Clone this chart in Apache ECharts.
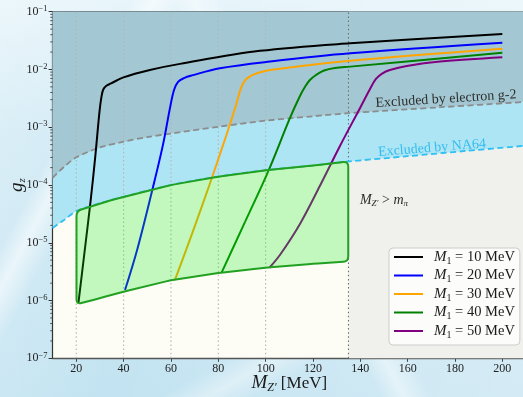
<!DOCTYPE html>
<html>
<head>
<meta charset="utf-8">
<script src="https://cdn.jsdelivr.net/npm/echarts@6/dist/echarts.min.js"></script>
<style>
  html, body { margin: 0; padding: 0; }
  body {
    width: 523px; height: 397px; overflow: hidden;
    background:
      linear-gradient(118deg, transparent 0 18%, rgba(255,255,255,0.55) 21%, transparent 25%),
      linear-gradient(62deg, transparent 0 52%, rgba(255,255,255,0.45) 55%, transparent 59%),
      linear-gradient(150deg, transparent 0 70%, rgba(255,255,255,0.4) 74%, transparent 78%),
      linear-gradient(100deg, rgba(255,255,255,0.25) 0%, transparent 30%, rgba(255,255,255,0.3) 100%),
      linear-gradient(180deg, #e6f4fa 0%, #cfe9f4 35%, #c2e3f1 100%);
  }
  #chart { width: 523px; height: 397px; }
</style>
</head>
<body>
<div id="chart"></div>
<script>
// ---- axis ranges and ticks ----
const xMin = 10, xMax = 210;
const yMin = 1e-7, yMax = 1e-1;
const xTickValues = [20, 40, 60, 80, 100, 120, 140, 160, 180, 200];

// ---- M1 benchmark masses (MeV) ----
const m1Masses = [10, 20, 30, 40, 50];

// ---- coupling curves g_z(M_Z') for each M1 ----
const curveM1_10 = [[20.9, 9.0e-7], [23.5, 6.97e-6], [26.1, 5.5e-5], [28.1, 3.32e-4], [29.8, 1.84e-3],
  [30.7, 3.48e-3], [31.4, 4.5e-3], [32.6, 5.19e-3], [34.7, 5.73e-3], [39.9, 7.3e-3],
  [51.1, 9.8e-3], [63.8, 1.25e-2], [97.6, 2.1e-2], [135.7, 2.84e-2], [200, 4.1e-2]];
const curveM1_20 = [[40.6, 1.52e-6], [45.7, 7.5e-6], [51.6, 6.7e-5], [56.6, 4.9e-4], [59.6, 2.16e-3],
  [61.3, 4.4e-3], [63.0, 6.1e-3], [65.5, 7.1e-3], [68.9, 7.9e-3], [80.7, 1.05e-2], [101.9, 1.37e-2],
  [135.7, 1.9e-2], [200, 2.9e-2]];
const curveM1_30 = [[61.7, 2.28e-6], [68.9, 1.43e-5], [76.1, 9.6e-5], [83.3, 7.06e-4], [87.5, 2.43e-3],
  [89.6, 4.79e-3], [91.3, 6.46e-3], [93.4, 7.57e-3], [96.4, 8.6e-3], [101.9, 9.8e-3],
  [135.7, 1.42e-2], [200, 2.29e-2]];
const curveM1_40 = [[81.4, 3.05e-6], [91.3, 2.3e-5], [101.0, 1.69e-4], [110.3, 1.45e-3], [114.5, 3.48e-3],
  [116.6, 4.97e-3], [118.7, 6.58e-3], [121.3, 8.03e-3], [124.7, 9.6e-3], [129.3, 1.06e-2],
  [135.7, 1.12e-2], [200, 1.95e-2]];
const curveM1_50 = [[101.6, 3.7e-6], [106.1, 6.2e-6], [114.5, 2.12e-5], [122.9, 9.6e-5], [131.4, 4.74e-4],
  [139.9, 2.16e-3], [144.1, 4.6e-3], [146.6, 6.86e-3], [149.2, 8.5e-3], [152.5, 9.8e-3],
  [159.6, 1.15e-2], [173.7, 1.37e-2], [200, 1.63e-2]];
const m1Curves = [curveM1_10, curveM1_20, curveM1_30, curveM1_40, curveM1_50];

// ---- exclusion boundaries ----
const g2Bound = [[10, 1.33e-4], [15, 2.09e-4], [20, 3.02e-4], [30, 4.47e-4], [40, 5.62e-4], [50, 6.76e-4],
  [60, 7.76e-4], [80, 1.02e-3], [100, 1.30e-3], [120, 1.55e-3], [135, 1.75e-3], [174, 2.22e-3], [210, 2.75e-3]];
const na64Bound = [[10, 1.8e-5], [15, 2.5e-5], [20.1, 3.55e-5], [35, 5.5e-5], [60, 1.0e-4], [80, 1.4e-4],
  [100, 1.8e-4], [120, 2.17e-4], [135, 2.55e-4], [160, 3.15e-4], [185, 3.9e-4], [210, 4.8e-4]];

// ---- allowed (green) band ----
const bandLower = [[20.1, 8.6e-7], [30, 1.1e-6], [40, 1.42e-6], [60, 2.25e-6], [80, 3.0e-6],
  [100, 3.7e-6], [120, 4.3e-6], [134.9, 4.75e-6]];
const bandUpper = [[20.1, 3.55e-5], [35, 5.5e-5], [60, 1.0e-4], [80, 1.4e-4], [100, 1.8e-4],
  [120, 2.17e-4], [134.9, 2.55e-4]];

// ---- reference vertical lines (2 M1 thresholds and the pion mass) ----
const thresholdLines = [20, 40, 60, 80, 100];
const pionMass = 135;

// ---- styling ----
const SERIF = '"Liberation Serif", "DejaVu Serif", serif';
const curveColors = ['#000000', '#0000ff', '#ffa500', '#008000', '#800080'];

// minor tick positions of the log axis (2..9 in every decade)
const minorTicks = [];
for (let e = -7; e < -1; e++) {
  for (let k = 2; k <= 9; k++) minorTicks.push(k * Math.pow(10, e));
}

function regionSeries(name, pointsFn, fill) {
  return {
    name, type: 'custom', silent: true, z: 1,
    data: [[xMin, 1e-3]],
    renderItem: function (params, api) {
      return {
        type: 'polygon',
        shape: { points: pointsFn().map(p => api.coord(p)) },
        style: { fill: fill }
      };
    }
  };
}

// path with softened corners, built in pixel space
function roundedPath(pts, r) {
  const n = pts.length;
  let d = '';
  const toward = (a, b, t) => {
    const dx = b[0] - a[0], dy = b[1] - a[1];
    const len = Math.hypot(dx, dy) || 1;
    const s = Math.min(t, len / 2) / len;
    return [a[0] + dx * s, a[1] + dy * s];
  };
  for (let i = 0; i < n; i++) {
    const p0 = pts[(i - 1 + n) % n], p1 = pts[i], p2 = pts[(i + 1) % n];
    const a = toward(p1, p0, r), b = toward(p1, p2, r);
    d += (i === 0 ? 'M' : 'L') + a[0].toFixed(2) + ' ' + a[1].toFixed(2) +
      ' Q' + p1[0].toFixed(2) + ' ' + p1[1].toFixed(2) + ' ' + b[0].toFixed(2) + ' ' + b[1].toFixed(2) + ' ';
  }
  return d + 'Z';
}

const series = [];

// region right of the pion mass
series.push(regionSeries('pion', () => [[pionMass, yMin], [xMax, yMin], [xMax, yMax], [pionMass, yMax]], '#f0f0ec'));
// NA64 excluded region
series.push(regionSeries('na64Region', () => na64Bound.concat([[xMax, yMax], [xMin, yMax]]), '#aee5f5'));
// electron g-2 excluded region
series.push(regionSeries('g2Region', () => g2Bound.concat([[xMax, yMax], [xMin, yMax]]), '#a3c8d3'));

// dotted vertical reference lines
series.push({
  name: 'refLines', type: 'custom', silent: true, z: 2,
  data: thresholdLines.map(x => [x, 1e-4, 0]).concat([[pionMass, 1e-4, 1]]),
  encode: { x: 0, y: 1 },
  renderItem: function (params, api) {
    const x = api.value(0);
    const p1 = api.coord([x, yMin]), p2 = api.coord([x, yMax]);
    const dark = api.value(2) === 1;
    return {
      type: 'line',
      shape: { x1: p1[0], y1: p1[1], x2: p2[0], y2: p2[1] },
      style: { stroke: dark ? '#6e6e6e' : '#b4b4b4', lineWidth: 1.1, lineDash: [1.5, 2.6] }
    };
  }
});

// boundary lines
series.push({
  name: 'g2Line', type: 'line', data: g2Bound, smooth: 0.3, symbol: 'none', silent: true, z: 3,
  lineStyle: { color: '#8c8c8c', width: 1.8, type: [6, 3.5] }
});
series.push({
  name: 'na64Line', type: 'line', data: na64Bound, smooth: 0.3, symbol: 'none', silent: true, z: 3,
  lineStyle: { color: '#2ec0f2', width: 1.8, type: [6, 3.5] }
});

// coupling curves
m1Masses.forEach((m, i) => {
  series.push({
    name: 'M1 = ' + m + ' MeV', type: 'line', data: m1Curves[i], smooth: 0.35,
    symbol: 'none', z: 4,
    lineStyle: { color: curveColors[i], width: 2 },
    itemStyle: { color: curveColors[i] }
  });
});

// allowed band, translucent on top of the curves
series.push({
  name: 'band', type: 'custom', silent: true, z: 5,
  data: [[xMin, 1e-3]],
  renderItem: function (params, api) {
    const pts = bandLower.concat(bandUpper.slice().reverse()).map(p => api.coord(p));
    return {
      type: 'path',
      shape: { pathData: roundedPath(pts, 5) },
      style: { fill: 'rgba(20,235,20,0.25)', stroke: '#22a022', lineWidth: 2 }
    };
  }
});

// minor ticks on the logarithmic axis
series.push({
  name: 'minorTicks', type: 'custom', silent: true, z: 6,
  data: minorTicks.map(v => [xMin, v]),
  encode: { x: 0, y: 1 },
  renderItem: function (params, api) {
    const p = api.coord([xMin, api.value(1)]);
    return {
      type: 'line',
      shape: { x1: p[0] - 2.4, y1: p[1], x2: p[0], y2: p[1] },
      style: { stroke: '#333', lineWidth: 0.8 }
    };
  }
});

const chart = echarts.init(document.getElementById('chart'), null, { renderer: 'canvas' });

chart.setOption({
  backgroundColor: 'transparent',
  animation: false,
  grid: {
    left: 52.6, top: 11.7, width: 473.4, height: 346.6, containLabel: false, outerBoundsMode: 'none',
    show: true, backgroundColor: '#fdfdf6', borderWidth: 0
  },
  xAxis: [{
    type: 'value', min: xMin, max: xMax, position: 'bottom',
    axisLine: { show: true, lineStyle: { color: '#555', width: 1.3 } },
    axisTick: { show: true, length: 3.5, lineStyle: { color: '#444' }, customValues: xTickValues },
    axisLabel: { customValues: xTickValues, color: '#222', fontFamily: SERIF, fontSize: 12, margin: 5 },
    splitLine: { show: false },
    name: '{i|M}{s|Z′}{n| [MeV]}', nameLocation: 'middle', nameGap: 14, nameMoveOverlap: false,
    nameTextStyle: {
      color: '#1a1a1a',
      rich: {
        i: { fontFamily: SERIF, fontStyle: 'italic', fontSize: 19, lineHeight: 22, verticalAlign: 'middle' },
        s: { fontFamily: SERIF, fontStyle: 'italic', fontSize: 12, lineHeight: 12, verticalAlign: 'bottom' },
        n: { fontFamily: SERIF, fontSize: 17, lineHeight: 22, verticalAlign: 'middle' }
      }
    }
  }, {
    type: 'value', min: xMin, max: xMax, position: 'top',
    axisLine: { show: true, onZero: false, lineStyle: { color: '#555', width: 1 } },
    axisTick: { show: false }, axisLabel: { show: false }, splitLine: { show: false }
  }],
  yAxis: {
    type: 'log', logBase: 10, min: yMin, max: yMax, interval: 1,
    axisLine: { show: true, lineStyle: { color: '#333', width: 1.2 } },
    axisTick: { show: true, length: 4, lineStyle: { color: '#333' } },
    splitLine: { show: false },
    axisLabel: {
      margin: 5,
      formatter: function (v) {
        const e = Math.round(Math.log10(v));
        return '{b|10}{s|−' + (-e) + '}';
      },
      rich: {
        b: { fontFamily: SERIF, fontSize: 12, lineHeight: 15, color: '#222', verticalAlign: 'middle' },
        s: { fontFamily: SERIF, fontSize: 8.5, lineHeight: 8, color: '#222', verticalAlign: 'top' }
      }
    },
    name: '{i|g}{s|z}', nameLocation: 'middle', nameGap: 25, nameMoveOverlap: false,
    nameTextStyle: {
      color: '#1a1a1a',
      rich: {
        i: { fontFamily: SERIF, fontStyle: 'italic', fontSize: 19, lineHeight: 22, verticalAlign: 'middle' },
        s: { fontFamily: SERIF, fontStyle: 'italic', fontSize: 11, lineHeight: 11, verticalAlign: 'bottom' }
      }
    }
  },
  legend: {
    orient: 'vertical', left: 389, top: 248,
    data: m1Masses.map(m => 'M1 = ' + m + ' MeV'),
    icon: 'rect', itemWidth: 29, itemHeight: 2, itemGap: 2,
    padding: [1.5, 5, 5, 5],
    backgroundColor: 'rgba(255,255,255,0.8)', borderColor: '#cccccc', borderWidth: 1, borderRadius: 4,
    selectedMode: false,
    formatter: function (name) {
      const m = name.replace('M1 = ', '').replace(' MeV', '');
      return '{i|M}{s|1}{n| = ' + m + ' MeV}';
    },
    textStyle: {
      color: '#1a1a1a', padding: [0, 0, 0, 6],
      rich: {
        i: { fontFamily: SERIF, fontStyle: 'italic', fontSize: 15, lineHeight: 18, verticalAlign: 'middle' },
        s: { fontFamily: SERIF, fontSize: 10, lineHeight: 10, verticalAlign: 'bottom' },
        n: { fontFamily: SERIF, fontSize: 14.5, lineHeight: 18, verticalAlign: 'middle' }
      }
    }
  },
  graphic: [
    {
      type: 'text', x: 446, y: 99, rotation: 3.6 * Math.PI / 180, silent: true, z: 100,
      style: { text: 'Excluded by electron g-2', font: '14px ' + SERIF, fill: '#2e2e2e', align: 'center', verticalAlign: 'middle' }
    },
    {
      type: 'text', x: 432, y: 148, rotation: 4.6 * Math.PI / 180, silent: true, z: 100,
      style: { text: 'Excluded by NA64', font: '14px ' + SERIF, fill: '#35bdee', align: 'center', verticalAlign: 'middle' }
    },
    {
      type: 'text', x: 384, y: 200, silent: true, z: 100,
      style: {
        text: '{i|M}{s|Z′}{n| > }{i|m}{s|π}', align: 'center', verticalAlign: 'middle', fill: '#2a2a2a',
        rich: {
          i: { fontFamily: SERIF, fontStyle: 'italic', fontSize: 14, lineHeight: 16, verticalAlign: 'middle' },
          s: { fontFamily: SERIF, fontStyle: 'italic', fontSize: 9, lineHeight: 9, verticalAlign: 'bottom' },
          n: { fontFamily: SERIF, fontSize: 14, lineHeight: 16, verticalAlign: 'middle' }
        }
      }
    }
  ],
  series: series
});
</script>
</body>
</html>
